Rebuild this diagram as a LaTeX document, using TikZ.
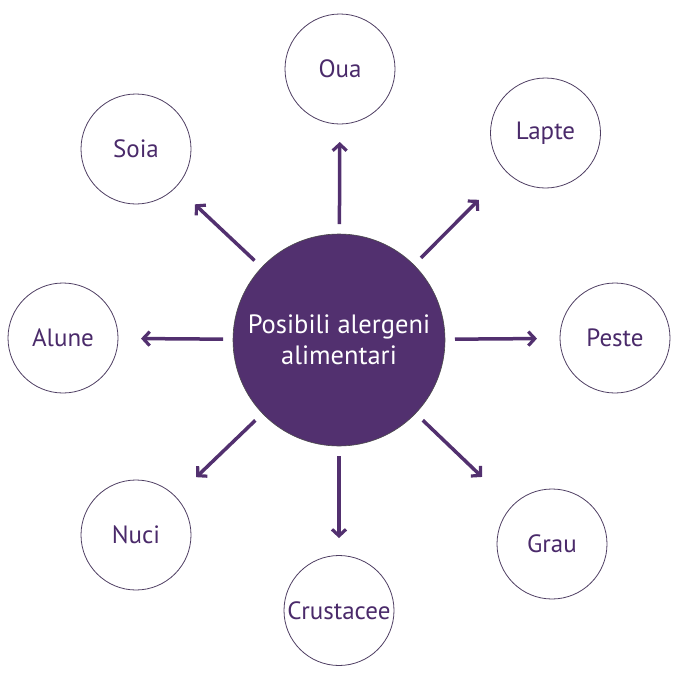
\documentclass[tikz,border=0pt]{standalone}
\usepackage{fontspec}
\setmainfont{PT Sans}
\usetikzlibrary{arrows.meta,calc}
\definecolor{violetfill}{HTML}{52306F}
\definecolor{violettext}{HTML}{4A2A6A}
\definecolor{ringline}{HTML}{4E3E62}
\begin{document}
\begin{tikzpicture}[x=1pt,y=-1pt,
  hub/.style={circle,fill=violetfill,draw=black!70,line width=0.6pt,minimum size=212pt,inner sep=0pt,
    text=white,font=\fontsize{26.5}{31}\selectfont,align=center},
  leaf/.style={circle,draw=ringline,line width=0.8pt,minimum size=110pt,inner sep=0pt,
    text=violettext,font=\fontsize{25}{29}\selectfont},
  arr/.style={draw=violetfill,line width=3.5pt,-{Straight Barb[length=6.5pt,width=14pt,line width=3.2pt]}}]
\useasboundingbox (0,0) rectangle (690,680);
\node[hub] (c) at (339,340) {Posibili alergeni\\alimentari};
\node[leaf] (oua) at (340,69) {Oua};
\node[leaf] (lapte) at (545.5,133) {Lapte};
\node[leaf] (peste) at (615,338) {Peste};
\node[leaf] (grau) at (552,544) {Grau};
\node[leaf] (crus) at (339,610.5) {Crustacee};
\node[leaf] (nuci) at (136,535) {Nuci};
\node[leaf] (alune) at (63,338) {Alune};
\node[leaf] (soia) at (136,149) {Soia};
\foreach \t in {oua,lapte,peste,grau,crus,nuci,alune,soia}{
  \draw[arr] ($(c)!116pt!(\t)$) -- ($(c)!198pt!(\t)$);
}
\end{tikzpicture}
\end{document}
